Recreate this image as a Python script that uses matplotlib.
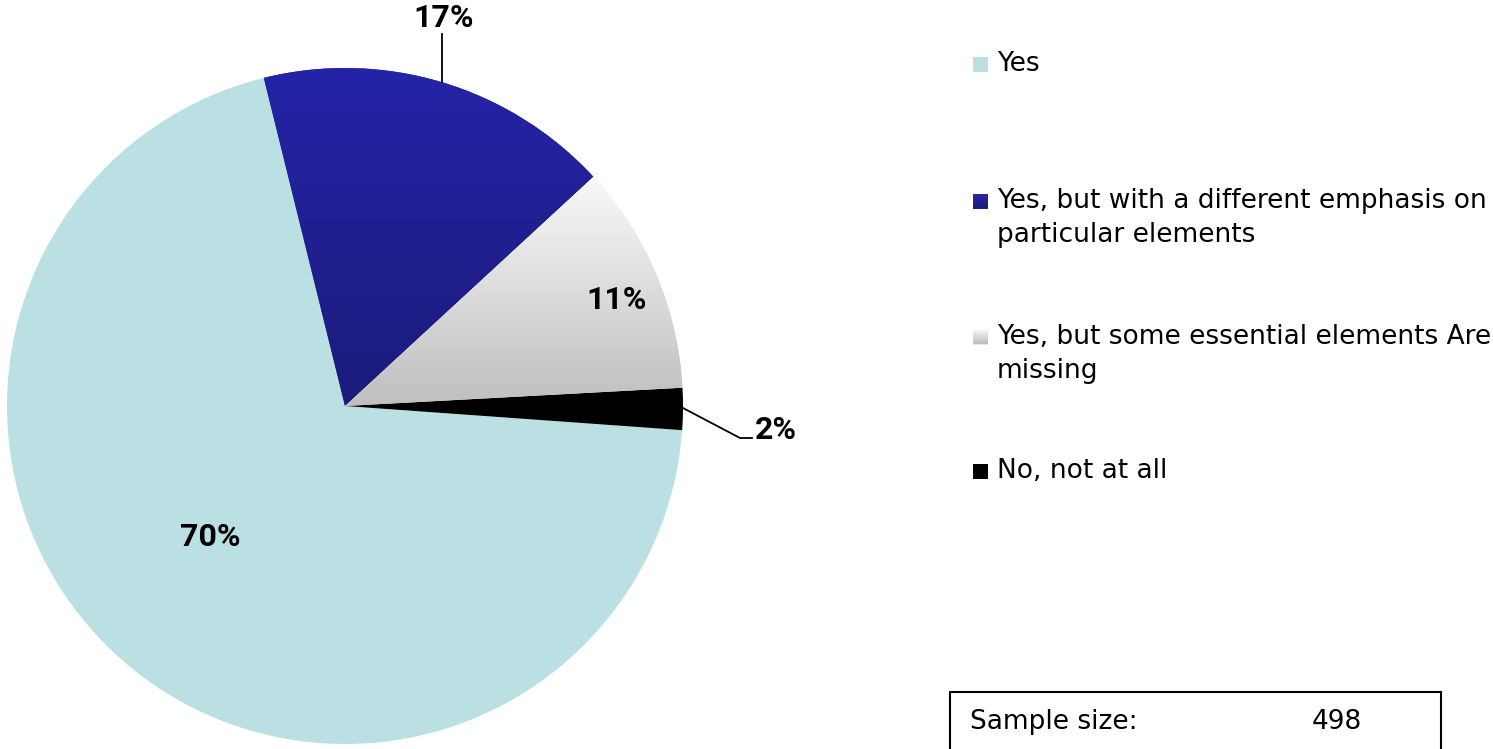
import numpy as np
import matplotlib
matplotlib.use("Agg")
import matplotlib.pyplot as plt
from matplotlib.patches import Rectangle

categories = ["Yes", "Yes, but with a different emphasis on\nparticular elements",
              "Yes, but some essential elements Are\nmissing", "No, not at all"]
values = [70, 17, 11, 2]
labels = ["70%", "17%", "11%", "2%"]
sample_size = 498

W, H = 1493, 749
fig = plt.figure(figsize=(W / 100, H / 100), dpi=100)
ax = fig.add_axes([0, 0, 1, 1])
ax.set_xlim(0, W)
ax.set_ylim(0, H)
ax.set_aspect("equal")
ax.axis("off")

def Y(py):
    return H - py

cx, cy, R = 345, Y(406), 338
base_colors = ["#bbe0e3", "#2222a0", "#e6e6e6", "#000000"]
wedges, _ = ax.pie(values, center=(cx, cy), radius=R, startangle=-4.1,
                   counterclock=False, colors=base_colors,
                   wedgeprops=dict(linewidth=0), frame=True)
ax.set_xlim(0, W)
ax.set_ylim(0, H)
ax.axis("off")

def vgrad(top, bottom, y0, y1, x0, x1, clip):
    t = np.linspace(0, 1, 256)[:, None]
    c0 = np.array(matplotlib.colors.to_rgb(top))
    c1 = np.array(matplotlib.colors.to_rgb(bottom))
    img = (c0[None, None, :] * (1 - t[..., None]) + c1[None, None, :] * t[..., None])
    img = np.repeat(img, 2, axis=1)
    im = ax.imshow(img, extent=(x0, x1, y0, y1), origin="upper", aspect="auto",
                   zorder=wedges[0].get_zorder() + 0.5)
    im.set_clip_path(clip)
    return im

# gradients on slices
vgrad("#2424a8", "#1b1b7a", Y(406), Y(68), cx - R, cx + R, wedges[1])
vgrad("#f9f9f9", "#bfbfbf", Y(406), Y(175), cx, cx + R, wedges[2])
ax.set_xlim(0, W)
ax.set_ylim(0, H)

# data labels
lab_kw = dict(fontsize=23, fontweight="bold", family="Roboto",
              ha="center", va="center", color="#000000", zorder=10)
ax.text(210, Y(537), labels[0], **lab_kw)
ax.text(444, Y(18), labels[1], **lab_kw)
ax.text(617, Y(300), labels[2], **lab_kw)
ax.text(776, Y(430), labels[3], **lab_kw)
ax.plot([442, 442], [Y(34), Y(82)], color="black", lw=1.3, zorder=9)
ax.plot([683, 740, 752], [Y(408), Y(438), Y(438)], color="black", lw=1.3, zorder=9)

# legend
leg_y = [64, 201, 337, 471]
sq = 15
fs = 19
leg_kw = dict(fontsize=fs, family="DejaVu Sans", ha="left", va="center",
              color="#000000")
for i, (cat, yy) in enumerate(zip(categories, leg_y)):
    if i == 1:
        r = Rectangle((973, Y(yy) - sq / 2), sq, sq, lw=0, facecolor="#2222a0")
        ax.add_patch(r)
        vgrad("#2828b0", "#1a1a78", Y(yy) - sq / 2, Y(yy) + sq / 2, 973, 973 + sq, r)
    elif i == 2:
        r = Rectangle((973, Y(yy) - sq / 2), sq, sq, lw=0, facecolor="#e6e6e6")
        ax.add_patch(r)
        vgrad("#fafafa", "#bbbbbb", Y(yy) - sq / 2, Y(yy) + sq / 2, 973, 973 + sq, r)
    else:
        ax.add_patch(Rectangle((973, Y(yy) - sq / 2), sq, sq, lw=0,
                               facecolor=base_colors[i]))
    first = cat.split("\n")
    ax.text(997, Y(yy), first[0], **leg_kw)
    if len(first) > 1:
        ax.text(997, Y(yy + 34), first[1], **leg_kw)

# sample size box
ax.add_patch(Rectangle((950, Y(760)), 1441 - 950, 760 - 692, fill=False,
                       edgecolor="black", lw=1.5, zorder=5, clip_on=False))
ax.text(970, Y(722), "Sample size:", **leg_kw)
ax.text(1337, Y(722), str(sample_size), fontsize=fs, family="DejaVu Sans",
        ha="center", va="center")

fig.savefig("out.png", dpi=100)
